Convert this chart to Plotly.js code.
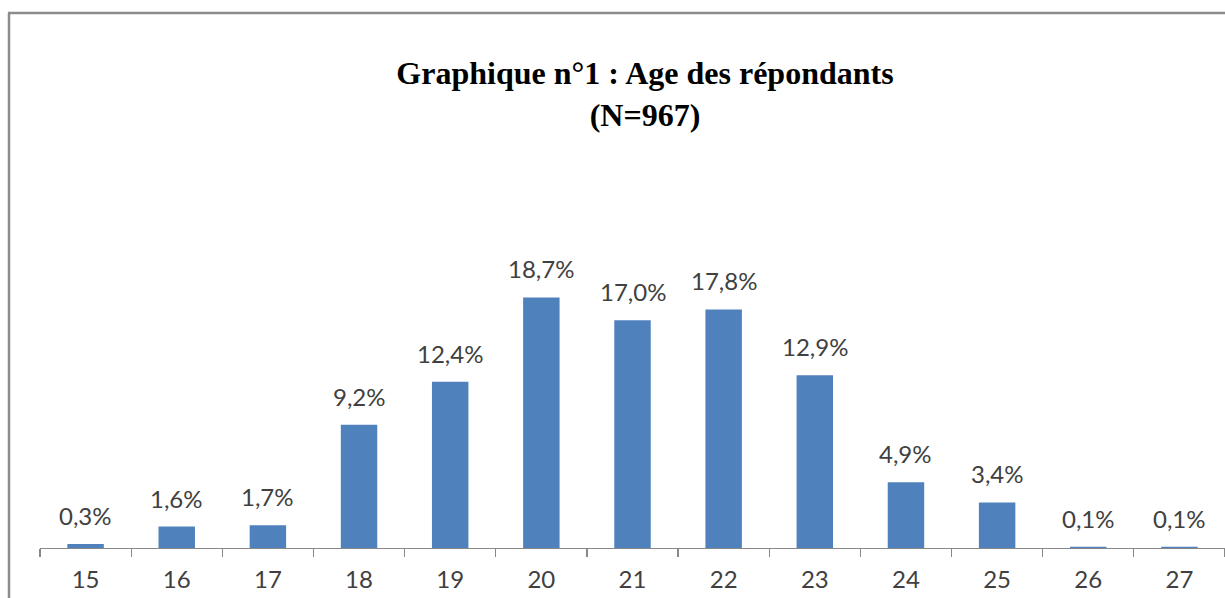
<!DOCTYPE html>
<html>
<head>
<meta charset="utf-8">
<script src="https://cdn.plot.ly/plotly-3.0.1.min.js"></script>
<style>html,body{margin:0;padding:0;background:#fff;}#chart{width:1225px;height:598px;}</style>
</head>
<body>
<div id="chart"></div>
<script>
var categories = ['15','16','17','18','19','20','21','22','23','24','25','26','27'];
var values = [0.3, 1.6, 1.7, 9.2, 12.4, 18.7, 17.0, 17.8, 12.9, 4.9, 3.4, 0.1, 0.1];
var labels = values.map(function(v){ return v.toFixed(1).replace('.', ',') + '%'; });

var trace = {
  type: 'bar',
  x: categories,
  y: values,
  marker: {color: '#4F81BD', line: {width: 0}},
  hoverinfo: 'skip'
};

var annotations = categories.map(function(c, i){
  return {
    x: i, y: values[i], xref: 'x', yref: 'y',
    text: labels[i], showarrow: false,
    yanchor: 'bottom', yshift: 12,
    font: {family: 'Lato, Carlito, sans-serif', size: 24, color: '#404040'}
  };
});

var layout = {
  width: 1225, height: 598,
  margin: {l: 40, r: 0, t: 280, b: 50},
  paper_bgcolor: '#fff', plot_bgcolor: '#fff',
  bargap: 0.6,
  showlegend: false,
  title: {
    text: 'Graphique n°1 : Age des répondants<br>(N=967)',
    font: {family: 'Liberation Serif, Times New Roman, serif', size: 32, color: '#000', weight: 'bold'},
    x: 645/1225, xref: 'container', xanchor: 'center',
    y: 1 - 84/598, yref: 'container', yanchor: 'top'
  },
  xaxis: {
    type: 'category',
    range: [-0.5, 12.5],
    showline: true, linecolor: '#888888', linewidth: 1.3,
    ticks: 'outside', tickson: 'boundaries', ticklen: 8, tickcolor: '#888888', tickwidth: 1.3,
    ticklabelstandoff: 10,
    showgrid: false, zeroline: false,
    tickfont: {family: 'Lato, Carlito, sans-serif', size: 24, color: '#404040'}
  },
  yaxis: {
    range: [0, 20],
    visible: false, showgrid: false, zeroline: false
  },
  annotations: annotations,
  shapes: [
    {type: 'line', xref: 'paper', yref: 'paper', x0: (9-40)/1185, x1: (9-40)/1185, y0: (548-13)/268, y1: (548-600)/268, line: {color: '#8c8c8c', width: 2.5}},
    {type: 'line', xref: 'paper', yref: 'paper', x0: (8-40)/1185, x1: (1230-40)/1185, y0: (548-13)/268, y1: (548-13)/268, line: {color: '#8c8c8c', width: 2.5}}
  ]
};

Plotly.newPlot('chart', [trace], layout, {staticPlot: true, displayModeBar: false});
</script>
</body>
</html>
